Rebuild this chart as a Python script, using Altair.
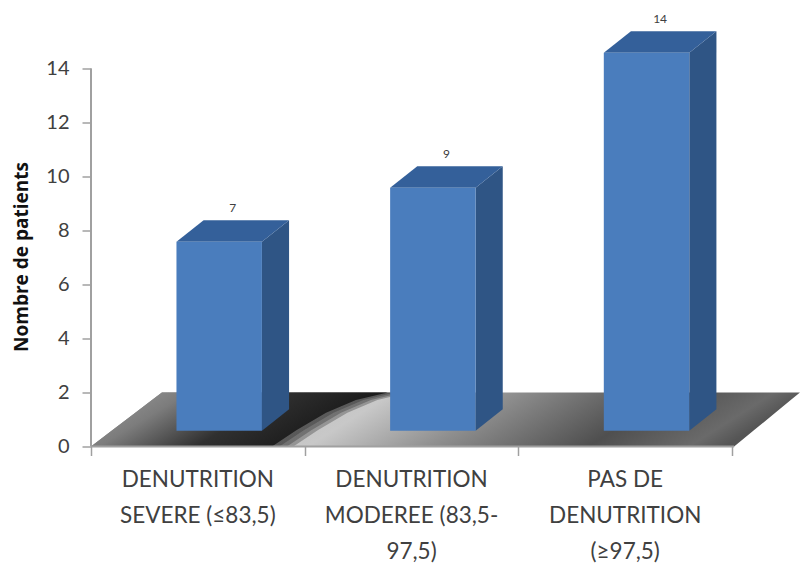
import altair as alt
import pandas as pd

# Patients per nutritional status
categories = ["DENUTRITION\nSEVERE (≤83,5)", "DENUTRITION\nMODEREE (83,5-\n97,5)", "PAS DE\nDENUTRITION\n(≥97,5)"]
values = [7, 9, 14]
y_ticks = [0, 2, 4, 6, 8, 10, 12, 14]
x_ticks = [0, 1, 2, 3]

# Box geometry, in axis units
BASE = 0.58
DEPTH_Y = 0.8
DEPTH_X = 0.127
LEFT = 0.4
RIGHT = 0.8

# Floor outline: back-to-front edges of the slab and the curved shadow boundary
floor_y = [0, 0.6, 1.25, 1.72, 2]
shadow_edge = [0.847, 0.961, 1.10, 1.24, 1.389]
shadow_blur = [0.10, 0.07, 0.035]

x_scale = alt.Scale(domain=[0, 710 / 213.67], nice=False, zero=False)
y_scale = alt.Scale(domain=[0, 446 / 27], nice=False, zero=False)

X = lambda f: alt.X(f, type="quantitative", scale=x_scale)
Y = lambda f: alt.Y(f, type="quantitative", scale=y_scale)

floor = pd.DataFrame({
    "y": floor_y,
    "left": [0.166 * v for v in floor_y],
    "right": [3.01 + 0.154 * v for v in floor_y],
    "shadow": shadow_edge,
})

front, side, top, tops = [], [], [], []
for i, v in enumerate(values):
    x0, x1 = i + LEFT, i + RIGHT
    y0, y1 = BASE, v + BASE
    front.append({"x": x0, "x2": x1, "y": y0, "y2": y1})
    side += [
        {"bar": i, "x": x1, "y": y0, "y2": y1},
        {"bar": i, "x": x1 + DEPTH_X, "y": y0 + DEPTH_Y, "y2": y1 + DEPTH_Y},
    ]
    top += [
        {"bar": i, "y": y1, "x": x0, "x2": x1},
        {"bar": i, "y": y1 + DEPTH_Y, "x": x0 + DEPTH_X, "x2": x1 + DEPTH_X},
    ]
    tops.append({"x": (x0 + x1 + DEPTH_X) / 2, "y": y1 + DEPTH_Y, "label": str(v)})

front, side, top, tops = map(pd.DataFrame, (front, side, top, tops))


def gradient(stops, y2=0.0):
    return alt.Gradient(
        gradient="linear", x1=0, y1=0, x2=1, y2=y2,
        stops=[alt.GradientStop(offset=o, color=c) for o, c in stops],
    )


# The first layer owns both axes and draws the vertical axis line
axes = alt.Chart(pd.DataFrame({"x": [0], "a": [0], "b": [14]})).mark_rule(
    color="#a0a0a0", strokeWidth=2
).encode(
    x=alt.X("x:Q", scale=x_scale, axis=alt.Axis(
        values=x_ticks, grid=False, domain=False, labels=False, title=None,
        tickColor="#a0a0a0", tickSize=9, tickWidth=1.5,
    )),
    y=alt.Y("a:Q", scale=y_scale, axis=alt.Axis(
        values=y_ticks, grid=False, domain=False, tickColor="#a0a0a0", tickSize=9, tickWidth=1.5,
        labelFont="Lato", labelFontSize=20, labelColor="#404040", labelPadding=13,
        title="Nombre de patients", titleFont="Open Sans", titleFontSize=19, titleFontWeight="bold",
        titleColor="#111111", titleX=-70, titleY=256, titleAngle=270, titleBaseline="middle", titleAlign="center",
    )),
    y2="b:Q",
)

floor_light = alt.Chart(floor).mark_area(
    orient="horizontal",
    color=gradient([(0, "#b0b0b0"), (0.42, "#c8c8c8"), (0.59, "#8f8f8f"), (0.81, "#4f4f4f"), (0.95, "#6a6a6a"), (1, "#555555")], y2=0.12),
).encode(y=Y("y"), x=X("left"), x2="right")

dark_stops = [(0, "#a0a0a0"), (0.3, "#7c7c7c"), (0.6, "#303030"), (1, "#141414")]

# Translucent copies of the shadow, each a little wider, soften its curved edge
shadow_fade = [
    alt.Chart(floor).transform_calculate(edge=f"datum.shadow + {w}").mark_area(
        orient="horizontal", opacity=0.3, color=gradient(dark_stops, y2=0.3),
    ).encode(y=Y("y"), x=X("left"), x2="edge:Q")
    for w in shadow_blur
]

floor_dark = alt.Chart(floor).mark_area(
    orient="horizontal", color=gradient(dark_stops, y2=0.3),
).encode(y=Y("y"), x=X("left"), x2="shadow")

axis_x = alt.Chart(pd.DataFrame({"a": [0], "b": [3.01], "y": [0]})).mark_rule(
    color="#a0a0a0", strokeWidth=2
).encode(x=X("a"), x2="b", y=Y("y"))

side_faces = alt.Chart(side).mark_area(color="#2f5585").encode(
    x=X("x"), y=Y("y"), y2="y2", detail="bar:N"
)
top_faces = alt.Chart(top).mark_area(orient="horizontal", color="#34609a").encode(
    y=Y("y"), x=X("x"), x2="x2", detail="bar:N"
)
front_faces = alt.Chart(front).mark_bar(color="#4a7dbd").encode(
    x=X("x"), x2="x2", y=Y("y"), y2="y2"
)

value_labels = alt.Chart(tops).mark_text(
    font="Lato", fontSize=12, color="#404040", baseline="middle", dy=-12
).encode(x=X("x"), y=Y("y"), text="label:N")

category_labels = alt.Chart(pd.DataFrame({
    "x": [i + 0.5 for i in range(len(categories))],
    "y": [0] * len(categories),
    "label": categories,
})).mark_text(
    font="Lato", fontSize=22.5, color="#404040", lineBreak="\n", lineHeight=36,
    baseline="top", dy=22,
).encode(x=X("x"), y=Y("y"), text="label:N")

chart = alt.layer(
    axes, floor_light, *shadow_fade, floor_dark, axis_x,
    side_faces, top_faces, front_faces, value_labels, category_labels,
).properties(
    width=710, height=446,
    padding={"left": 91, "top": 0.5, "right": 0, "bottom": 120.5},
    autosize=alt.AutoSizeParams(type="none"),
    background="white",
).configure_view(stroke=None)

chart.save("out.html", embed_options={"renderer": "svg", "actions": False})
